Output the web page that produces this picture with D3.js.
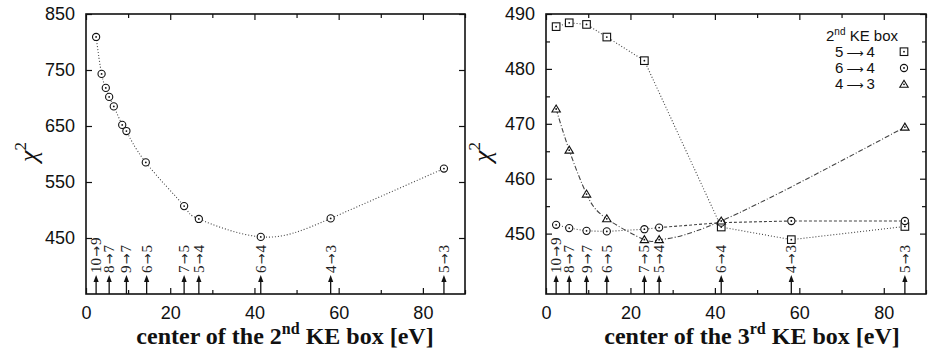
<!DOCTYPE html>
<html><head><meta charset="utf-8">
<script src="https://cdn.jsdelivr.net/npm/d3@7"></script>
<style>
body{margin:0;background:#fff;}
svg{display:block;}
.tick text{font-family:"Liberation Sans",Arial,sans-serif;font-size:18px;fill:#111;}
.domain{stroke:none;}
.tick line{stroke:#111;stroke-width:1.2px;}
</style></head>
<body>
<svg id="c" width="928" height="352"></svg>
<script>
// ---------- data ----------
const transitionFrom = ["10","8","9","6","7","5","6","4","5"];
const transitionTo   = ["9","7","7","5","5","4","4","3","3"];
const transitionX = [2.4, 5.5, 9.6, 14.4, 23.3, 26.8, 41.5, 58.1, 85.0];

// left panel: chi^2 vs center of 2nd KE box
const leftX = [2.4, 3.7, 4.7, 5.5, 6.6, 8.6, 9.6, 14.2, 23.3, 26.8, 41.5, 58.1, 85.0];
const leftY = [809, 743, 718, 702, 685, 652, 641, 585, 507, 484, 452, 485, 574];

// right panel: chi^2 vs center of 3rd KE box, for three choices of 2nd box
const sq54X = [2.4, 5.5, 9.6, 14.4, 23.3, 41.5, 58.1, 85.0];
const sq54Y = [487.7, 488.4, 488.1, 485.8, 481.5, 451.2, 448.9, 451.3];
const ci64X = [2.4, 5.5, 9.6, 14.4, 23.3, 26.8, 41.5, 58.1, 85.0];
const ci64Y = [451.6, 451.0, 450.5, 450.4, 450.8, 451.1, 452.0, 452.3, 452.3];
const tr43X = [2.4, 5.5, 9.6, 14.4, 23.3, 26.8, 41.5, 85.0];
const tr43Y = [472.7, 465.2, 457.2, 452.7, 448.9, 448.9, 452.3, 469.4];

const legendFrom = ["5", "6", "4"];
const legendTo = ["4", "4", "3"];
const xTicks = [0,10,20,30,40,50,60,70,80,90];
const leftYTicks = [450,550,650,750,850];
const rightYTicks = [450,455,460,465,470,475,480,485,490];

// ---------- drawing ----------
const svg = d3.select("#c");
const plotTop = 14, plotBottom = 294;

function panel(x0, x1, yDomain, yTicks, yLabelEvery) {
  const g = svg.append("g");
  const x = d3.scaleLinear().domain([0,90]).range([x0,x1]);
  const y = d3.scaleLinear().domain(yDomain).range([plotBottom, plotTop]);
  const isMajX = d => d % 20 === 0;
  const isMajY = d => (d - yTicks[0]) % yLabelEvery === 0;
  const ab = g.append("g").attr("transform",`translate(0,${plotBottom})`)
    .call(d3.axisBottom(x).tickValues(xTicks).tickSizeOuter(0).tickPadding(6)
      .tickFormat(d => (isMajX(d) && d<90) ? d : ""));
  ab.selectAll(".tick line").attr("y2", d => isMajX(d) ? -6 : -4);
  const at = g.append("g").attr("transform",`translate(0,${plotTop})`)
    .call(d3.axisTop(x).tickValues(xTicks).tickSizeOuter(0).tickFormat(""));
  at.selectAll(".tick line").attr("y2", d => isMajX(d) ? 6 : 4);
  const al = g.append("g").attr("transform",`translate(${x0},0)`)
    .call(d3.axisLeft(y).tickValues(yTicks).tickSizeOuter(0).tickPadding(5)
      .tickFormat(d => isMajY(d) ? d : ""));
  al.selectAll(".tick line").attr("x2", d => isMajY(d) ? 6 : 4);
  const ar = g.append("g").attr("transform",`translate(${x1},0)`)
    .call(d3.axisRight(y).tickValues(yTicks).tickSizeOuter(0).tickFormat(""));
  ar.selectAll(".tick line").attr("x2", d => isMajY(d) ? -6 : -4);
  g.append("rect").attr("x",x0).attr("y",plotTop).attr("width",x1-x0).attr("height",plotBottom-plotTop)
    .attr("fill","none").attr("stroke","#111").attr("stroke-width",1.6);

  transitionX.forEach((tx, i) => {
    const px = x(tx);
    g.append("line").attr("x1",px).attr("x2",px).attr("y1",plotBottom).attr("y2",plotBottom-14)
      .attr("stroke","#111").attr("stroke-width",1.3);
    g.append("path").attr("d",`M${px-2.6},${plotBottom-12} L${px+2.6},${plotBottom-12} L${px},${plotBottom-19} Z`)
      .attr("fill","#111");
    const t = g.append("text").attr("transform",`translate(${px+5},${plotBottom-21}) rotate(-90)`)
      .attr("font-family","'Liberation Serif','Times New Roman',serif").attr("font-size",15)
      .attr("fill","#222");
    t.append("tspan").text(transitionFrom[i]);
    t.append("tspan").attr("font-family","'DejaVu Sans',sans-serif").attr("font-size",13).attr("dx",1).text("\u2192");
    t.append("tspan").attr("dx",1).text(transitionTo[i]);
  });
  return {g,x,y};
}

function marker(g, type, px, py) {
  if (type === "circle") {
    g.append("circle").attr("cx",px).attr("cy",py).attr("r",3.6).attr("fill","#fff").attr("stroke","#111").attr("stroke-width",1.1);
  } else if (type === "square") {
    g.append("rect").attr("x",px-3.8).attr("y",py-3.8).attr("width",7.6).attr("height",7.6).attr("fill","#fff").attr("stroke","#111").attr("stroke-width",1.1);
  } else {
    g.append("path").attr("d",`M${px-4.2},${py+3} L${px+4.2},${py+3} L${px},${py-4} Z`).attr("fill","#fff").attr("stroke","#111").attr("stroke-width",1.1);
  }
  g.append("circle").attr("cx",px).attr("cy",py).attr("r",0.9).attr("fill","#111");
}

// Left panel
const L = panel(86, 465, [350, 850], leftYTicks, 100);
const leftPts = leftX.map((d,i)=>[d,leftY[i]]);
L.g.append("path").attr("d", d3.line().x(d=>L.x(d[0])).y(d=>L.y(d[1])).curve(d3.curveNatural)(leftPts))
  .attr("fill","none").attr("stroke","#444").attr("stroke-width",1.1).attr("stroke-dasharray","1,2");
leftPts.forEach(d => marker(L.g, "circle", L.x(d[0]), L.y(d[1])));

// Right panel
const R = panel(546, 926, [439, 490], rightYTicks, 10);
const sqPts = sq54X.map((d,i)=>[d,sq54Y[i]]);
const ciPts = ci64X.map((d,i)=>[d,ci64Y[i]]);
const trPts = tr43X.map((d,i)=>[d,tr43Y[i]]);
const lin = d3.line().x(d=>R.x(d[0])).y(d=>R.y(d[1]));
R.g.append("path").attr("d", lin(sqPts)).attr("fill","none").attr("stroke","#444").attr("stroke-width",1.1).attr("stroke-dasharray","1,2");
R.g.append("path").attr("d", lin(ciPts.slice(0,6))).attr("fill","none").attr("stroke","#444").attr("stroke-width",1.1).attr("stroke-dasharray","1,2");
R.g.append("path").attr("d", lin(ciPts.slice(5))).attr("fill","none").attr("stroke","#444").attr("stroke-width",1.1).attr("stroke-dasharray","3,2");
R.g.append("path").attr("d", d3.line().x(d=>R.x(d[0])).y(d=>R.y(d[1])).curve(d3.curveNatural)(trPts))
  .attr("fill","none").attr("stroke","#444").attr("stroke-width",1.1).attr("stroke-dasharray","5,2,1,2");
sqPts.forEach(d => marker(R.g, "square", R.x(d[0]), R.y(d[1])));
ciPts.forEach(d => marker(R.g, "circle", R.x(d[0]), R.y(d[1])));
trPts.forEach(d => marker(R.g, "triangle", R.x(d[0]), R.y(d[1])));

// legend
const lg = R.g.append("g").attr("font-family","'Liberation Sans',Arial,sans-serif").attr("fill","#111");
const lt = lg.append("text").attr("x",826).attr("y",41).attr("font-size",15);
lt.append("tspan").text("2");
lt.append("tspan").attr("font-size",10).attr("dy",-6).text("nd");
lt.append("tspan").attr("dy",6).text(" KE box");
["square","circle","triangle"].forEach((t,i) => {
  const yy = 51.7 + i*16.3;
  const tx = lg.append("text").attr("x",835).attr("y",yy+5).attr("font-size",15);
  tx.append("tspan").text(legendFrom[i]);
  tx.append("tspan").attr("font-family","'DejaVu Sans',sans-serif").attr("font-size",12).attr("dx",3).text("\u27F6");
  tx.append("tspan").attr("dx",3).text(legendTo[i]);
  marker(lg, t, 904, yy);
});

// axis titles
function ylab(cx, cy) {
  const t = svg.append("text").attr("transform",`translate(${cx},${cy}) rotate(-90)`)
    .attr("text-anchor","middle").attr("font-family","'Liberation Serif','Times New Roman',serif")
    .attr("font-size",26).attr("fill","#111");
  t.append("tspan").attr("font-style","italic").text("\u03C7");
  t.append("tspan").attr("font-size",17).attr("dy",-11).text("2");
}
ylab(37, 152);
ylab(491, 152);

function xlab(cx, sup, label) {
  const t = svg.append("text").attr("x",cx).attr("y",344).attr("text-anchor","middle")
    .attr("font-family","'Liberation Serif','Times New Roman',serif").attr("font-weight","bold")
    .attr("font-size",24).attr("fill","#111");
  t.append("tspan").text("center of the " + label);
  t.append("tspan").attr("font-size",16).attr("dy",-10).text(sup);
  t.append("tspan").attr("dy",10).text(" KE box [eV]");
}
xlab(285, "nd", "2");
xlab(752, "rd", "3");
</script>
</body></html>
